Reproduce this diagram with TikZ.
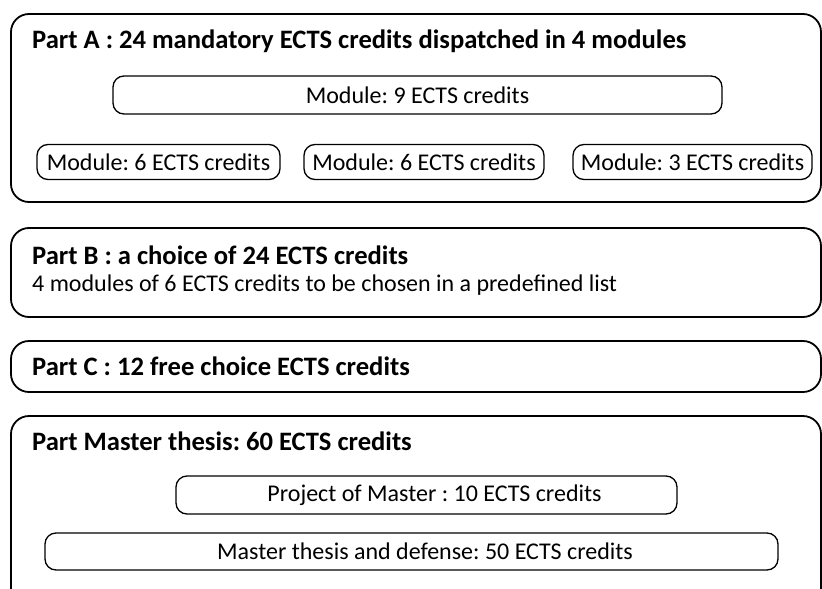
\documentclass[tikz,border=0pt]{standalone}
\usepackage{fontspec}
\setmainfont{Carlito}
\frenchspacing
\begin{document}
\begin{tikzpicture}[x=1pt,y=-1pt,
  outerbox/.style={draw=black, line width=1.8pt, rounded corners=18pt, inner sep=0pt},
  modbox/.style={draw=black, line width=1.3pt, rounded corners=11pt, inner sep=0pt,
    font=\fontsize{24}{28}\selectfont},
  txt/.style={inner sep=0pt, font=\fontsize{24}{28}\selectfont},
  title/.style={inner sep=0pt, anchor=base west, font=\fontsize{26.6}{30}\selectfont\bfseries},
  body/.style={inner sep=0pt, anchor=base west, font=\fontsize{24}{28}\selectfont}]
\useasboundingbox (0,0) rectangle (822,589);
\clip (0,0) rectangle (822,589);
% outer boxes
\node[outerbox, minimum width=810pt, minimum height=188pt] (partA) at (416,108) {};
\node[outerbox, minimum width=810pt, minimum height=89pt] (partB) at (416,272.5) {};
\node[outerbox, minimum width=810pt, minimum height=51pt] (partC) at (416,366.5) {};
\node[outerbox, minimum width=810pt, minimum height=204pt] (partM) at (416,518) {};
% titles
\node[title] (tA) at (32,48) {Part A : 24 mandatory ECTS credits dispatched in 4 modules};
\node[title] (tB) at (32,264) {Part B : a choice of 24 ECTS credits};
\node[body] (lB) at (32,291.5) {4 modules of 6 ECTS credits to be chosen in a predefined list};
\node[title] (tC) at (32,375) {Part C : 12 free choice ECTS credits};
\node[title] (tM) at (32,450) {Part Master thesis: 60 ECTS credits};
% modules
\node[modbox, minimum width=609pt, minimum height=38pt] (m9) at (417.5,95) {Module: 9 ECTS credits};
\node[modbox, minimum width=243pt, minimum height=35pt] (m6a) at (158.5,162) {Module: 6 ECTS credits};
\node[modbox, minimum width=240pt, minimum height=35pt] (m6b) at (424,162) {Module: 6 ECTS credits};
\node[modbox, minimum width=239pt, minimum height=35pt] (m3) at (692.5,162) {Module: 3 ECTS credits};
% master
\node[modbox, minimum width=501pt, minimum height=38pt] (proj) at (426.5,495) {};
\node[txt] (projt) at (434.5,495) {Project of Master : 10 ECTS credits};
\node[modbox, minimum width=733pt, minimum height=37pt] (thes) at (411.5,551.5) {};
\node[txt] (thest) at (425,551.5) {Master thesis and defense: 50 ECTS credits};
\end{tikzpicture}
\end{document}
